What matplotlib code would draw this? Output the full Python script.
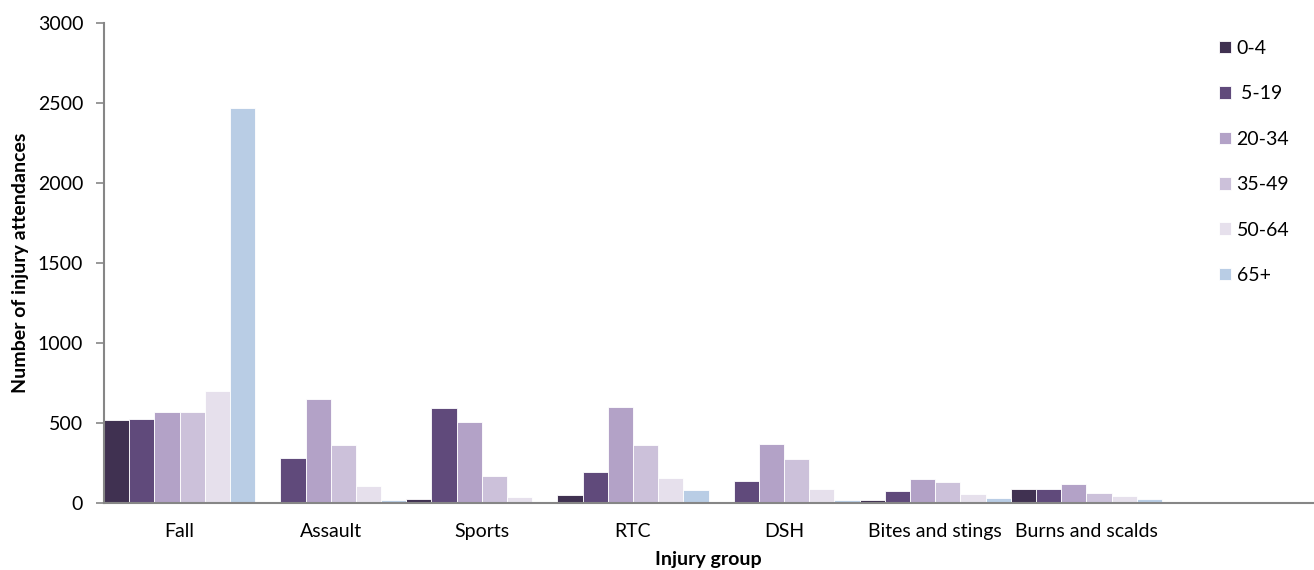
import matplotlib
matplotlib.use("Agg")
import matplotlib.pyplot as plt
import numpy as np

categories = ["Fall", "Assault", "Sports", "RTC", "DSH", "Bites and stings", "Burns and scalds", ""]
age_groups = ["0-4", " 5-19", "20-34", "35-49", "50-64", "65+"]
vals_0_4   = [517, 0, 21, 44, 0, 15, 82, 0]
vals_5_19  = [521, 276, 590, 188, 136, 69, 82, 0]
vals_20_34 = [567, 646, 506, 600, 368, 144, 115, 0]
vals_35_49 = [565, 358, 165, 362, 270, 130, 61, 0]
vals_50_64 = [699, 102, 33, 155, 86, 52, 40, 0]
vals_65p   = [2467, 15, 2, 77, 13, 29, 19, 0]
series = [vals_0_4, vals_5_19, vals_20_34, vals_35_49, vals_50_64, vals_65p]
colors = ["#403151", "#604A7B", "#B3A2C7", "#CCC1DA", "#E6E0EC", "#B9CDE5"]

plt.rcParams['font.family'] = ['Lato', 'DejaVu Sans']

W, H = 1314, 570
fig = plt.figure(figsize=(W/100, H/100), dpi=100)
ax = fig.add_axes([104/W, (H-502.5)/H, (1313-104)/W, (502.5-23)/H])

x = np.arange(len(categories))
n = len(series)
bw = 1.0 / n
for i, (vals, c, lab) in enumerate(zip(series, colors, age_groups)):
    ax.bar(x - 0.5 + bw*(i+0.5), vals, width=bw, color=c, edgecolor='white',
           linewidth=0.6, label=lab, zorder=2)

ax.set_xlim(-0.5, len(categories) - 0.5)
ax.set_ylim(0, 3000)
ax.set_yticks(np.arange(0, 3001, 500))
ax.set_xticks(x)
ax.set_xticklabels(categories, fontsize=14)
ax.tick_params(axis='x', length=0, pad=15)
ax.tick_params(axis='y', length=6, width=1.2, color='#868686', pad=9, labelsize=14)
for s in ['top', 'right']:
    ax.spines[s].set_visible(False)
for s in ['left', 'bottom']:
    ax.spines[s].set_color('#868686')
    ax.spines[s].set_linewidth(1.5)

ax.set_xlabel("Injury group", fontsize=14, fontweight='bold', labelpad=8)
ax.set_ylabel("Number of injury attendances", fontsize=14, fontweight='bold', labelpad=6)

leg = ax.legend(loc='upper left', bbox_to_anchor=(1219/W, (H-40)/H), bbox_transform=fig.transFigure,
                frameon=False, fontsize=14, handlelength=0.62, handleheight=0.62,
                handletextpad=0.28, labelspacing=1.46, borderaxespad=0, borderpad=0)

fig.savefig("out.png", dpi=100)
